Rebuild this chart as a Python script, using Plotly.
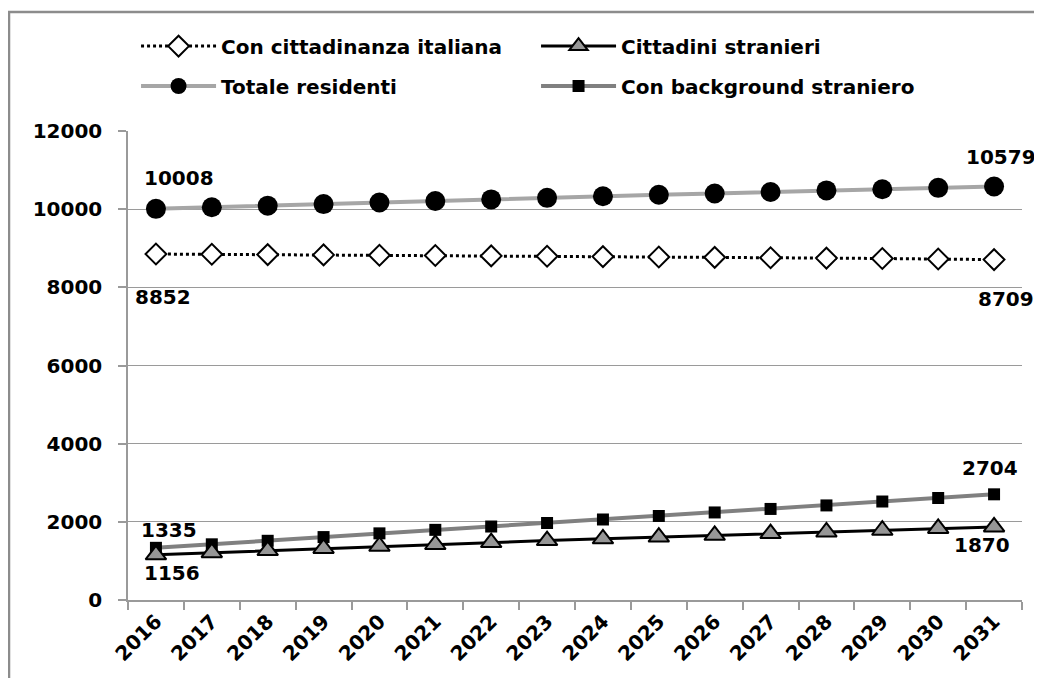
import plotly.graph_objects as go

years = [str(y) for y in range(2016, 2032)]
italiana = [8852, 8845, 8838, 8830, 8822, 8813, 8804, 8795, 8786, 8777, 8768, 8758, 8748, 8738, 8724, 8709]
stranieri = [1156, 1210, 1265, 1320, 1375, 1420, 1470, 1520, 1565, 1610, 1655, 1700, 1740, 1785, 1830, 1870]
totale = [10008, 10050, 10090, 10130, 10170, 10210, 10250, 10290, 10330, 10370, 10400, 10440, 10480, 10510, 10545, 10579]
background = [1335, 1425, 1515, 1610, 1705, 1795, 1880, 1970, 2060, 2150, 2240, 2330, 2420, 2520, 2610, 2704]

FONT = "DejaVu Sans"

fig = go.Figure()
fig.add_trace(go.Scatter(
    x=years, y=totale, name="Totale residenti", mode="lines+markers", legend="legend2",
    line=dict(color="#a6a6a6", width=4),
    marker=dict(symbol="circle", size=20, color="black")))
fig.add_trace(go.Scatter(
    x=years, y=italiana, name="Con cittadinanza italiana", mode="lines+markers", legend="legend",
    line=dict(color="black", width=3, dash="dot"),
    marker=dict(symbol="diamond", size=16, color="white", line=dict(color="black", width=2))))
fig.add_trace(go.Scatter(
    x=years, y=background, name="Con background straniero", mode="lines+markers", legend="legend2",
    line=dict(color="#808080", width=4),
    marker=dict(symbol="square", size=12, color="black")))
fig.add_trace(go.Scatter(
    x=years, y=stranieri, name="Cittadini stranieri", mode="lines+markers", legend="legend",
    line=dict(color="black", width=3),
    marker=dict(symbol="triangle-up", size=18, color="#969696", line=dict(color="black", width=2))))

fig.data[1].legendrank = 1
fig.data[3].legendrank = 2
fig.data[0].legendrank = 3
fig.data[2].legendrank = 4

labels = [
    (totale, 0, 23, 31), (totale, 15, 7, 30),
    (italiana, 0, 7, -43), (italiana, 15, 12, -39),
    (background, 0, 13, 18), (background, 15, -4, 26),
    (stranieri, 0, 16, -18), (stranieri, 15, -12, -18),
]
for series, idx, xs, ys in labels:
    fig.add_annotation(x=idx, y=series[idx], xref="x", yref="y", text=str(series[idx]), showarrow=False,
                       xshift=xs, yshift=ys,
                       font=dict(family=FONT, size=20, color="black", weight="bold"))

legend_common = dict(orientation="h", xanchor="left", yanchor="middle",
                     itemwidth=75, entrywidth=310, entrywidthmode="pixels",
                     bgcolor="rgba(0,0,0,0)", borderwidth=0, itemsizing="trace",
                     font=dict(family=FONT, size=20, color="black", weight="bold"))

fig.update_layout(
    width=1042, height=678,
    margin=dict(l=120, r=28, t=123, b=86),
    paper_bgcolor="white", plot_bgcolor="white",
    font=dict(family=FONT, color="black"),
    showlegend=True,
    legend=dict(x=0.009, y=1.181, **legend_common),
    legend2=dict(x=0.009, y=1.096, **legend_common),
    xaxis=dict(type="category", range=[-0.5, 15.5], tickson="boundaries",
               ticks="outside", ticklen=8, tickcolor="#9a9a9a", tickwidth=1.5,
               showline=True, linecolor="#9a9a9a", linewidth=1.5, showgrid=False,
               tickangle=-45,
               tickfont=dict(family=FONT, size=20, color="black", weight="bold")),
    yaxis=dict(range=[0, 12000], dtick=2000, tick0=0, tickformat="d",
               ticks="outside", ticklen=8, tickcolor="#9a9a9a", tickwidth=1.5,
               showline=True, linecolor="#9a9a9a", linewidth=1.5,
               showgrid=True, gridcolor="#9a9a9a", gridwidth=1.2, zeroline=False,
               ticklabelstandoff=12,
               tickfont=dict(family=FONT, size=20, color="black", weight="bold")),
    shapes=[dict(type="rect", xref="paper", yref="paper",
                 x0=-0.1331, x1=1.05, y0=-0.2, y1=1.2537,
                 line=dict(color="#8c8c8c", width=2.5), fillcolor="rgba(0,0,0,0)", layer="below")],
)

fig.write_html("out.html")
